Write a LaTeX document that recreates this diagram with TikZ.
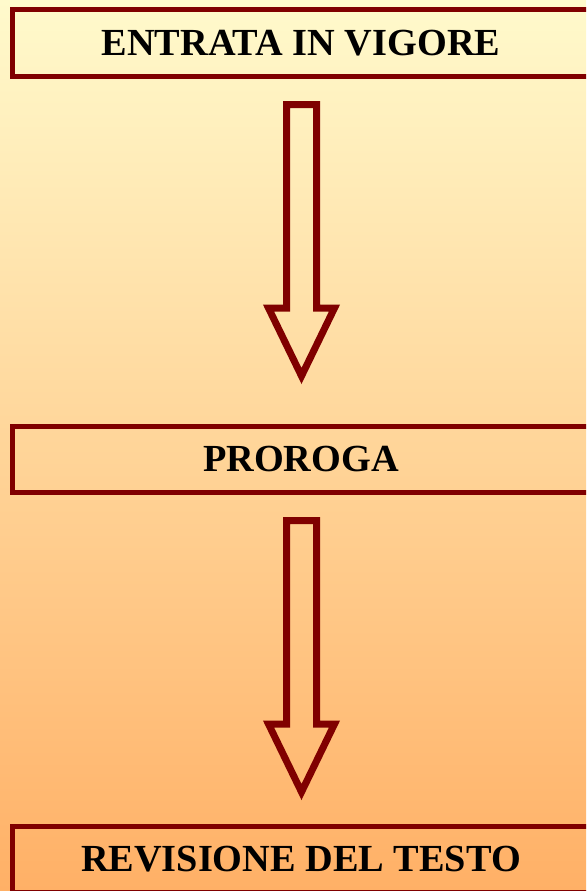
\documentclass[tikz,border=0pt]{standalone}
\usepackage{fontspec}
\setmainfont{Liberation Serif}
\definecolor{bgtop}{RGB}{255,250,204}
\definecolor{bgbot}{RGB}{255,176,102}
\definecolor{maroon}{RGB}{128,0,0}
\begin{document}
\begin{tikzpicture}[x=1pt,y=-1pt,
  stagebox/.style={draw=maroon, line width=5pt, minimum width=577pt, minimum height=66pt,
    inner sep=0pt, font=\fontsize{38.3}{41}\selectfont\bfseries, text=black},
  blockarrow/.style={draw=maroon, line width=7pt, miter limit=10, line join=miter}]
\useasboundingbox (0,0) rectangle (586,891);
\clip (0,0) rectangle (586,891);
\shade[top color=bgtop, bottom color=bgbot] (0,0) rectangle (586,891);
\node[stagebox] (s1) at (301,43) {ENTRATA IN VIGORE};
\node[stagebox] (s2) at (301,459.5) {PROROGA};
\node[stagebox] (s3) at (301,859.5) {REVISIONE DEL TESTO};
\foreach \dy in {0,416}{
  \draw[blockarrow] (286.5,104.5+\dy) -- (316.5,104.5+\dy) -- (316.5,308+\dy) -- (334.5,308+\dy)
    -- (301.5,376+\dy) -- (268.5,308+\dy) -- (286.5,308+\dy) -- cycle;
}
\end{tikzpicture}
\end{document}
